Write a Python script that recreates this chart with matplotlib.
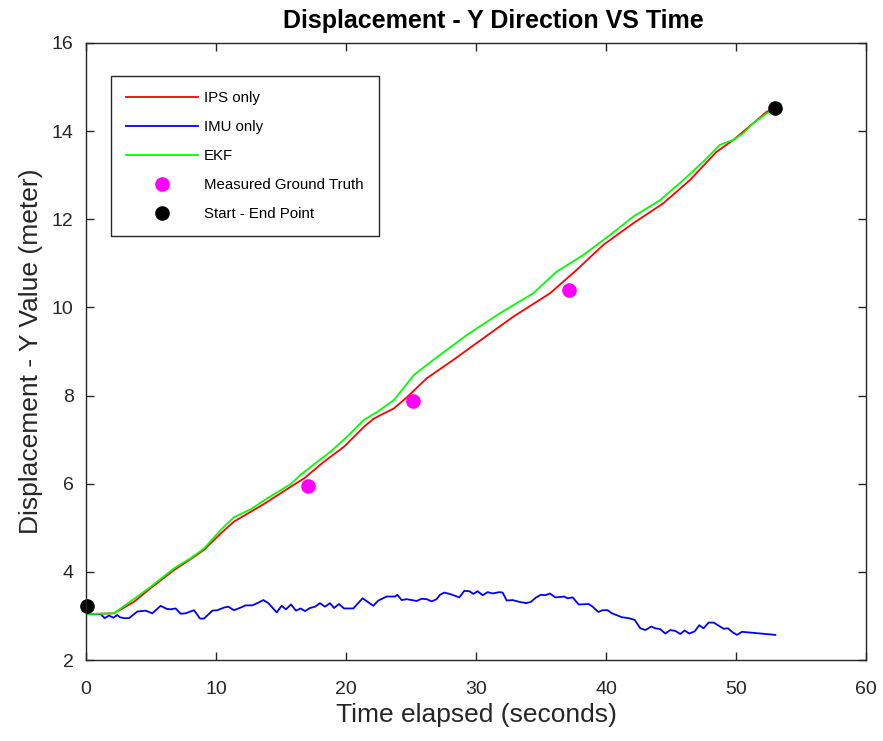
import numpy as np
import matplotlib
matplotlib.use("Agg")
import matplotlib.pyplot as plt

plt.rcParams["font.family"] = ["Liberation Sans", "DejaVu Sans"]

# ----- Data -----

ips_t = [0, 2.15, 3.69, 4.97, 6.77, 8.31, 9.08, 10.36, 11.38, 13.69, 15.74, 16.77,
         18.31, 19.85, 21.38, 22.15, 23.69, 24.72, 26.2, 28.26, 30.56, 32.87, 35.69,
         37.74, 39.8, 42.1, 44.4, 46.46, 48.5, 49.8, 51.33, 52.36, 53.0]
ips_y = [3.04, 3.06, 3.32, 3.63, 4.04, 4.34, 4.50, 4.87, 5.14, 5.54, 5.93, 6.12,
         6.50, 6.84, 7.29, 7.48, 7.71, 7.97, 8.39, 8.81, 9.30, 9.79, 10.32,
         10.85, 11.42, 11.91, 12.36, 12.89, 13.53, 13.80, 14.18, 14.44, 14.50]

imu_t = [0, 1.13, 1.44, 1.77, 2.10, 2.41, 2.62, 2.92, 3.31, 3.95, 4.59, 5.10, 5.74,
         6.21, 6.51, 6.90, 7.28, 7.67, 8.31, 8.77, 9.08, 9.72, 10.10, 10.62, 10.95,
         11.38, 11.90, 12.28, 12.79, 13.18, 13.64, 14.03, 14.67, 15.05, 15.38, 15.77,
         16.15, 16.51, 16.85, 17.23, 17.62, 18.0, 18.38, 18.77, 19.08, 19.46, 19.85,
         20.56, 21.28, 22.10, 22.49, 23.13, 23.77, 23.95, 24.28, 24.67, 25.44, 25.82,
         26.21, 26.59, 26.97, 27.23, 27.56, 28.08, 28.72, 29.10, 29.49, 29.80, 30.13,
         30.51, 30.90, 31.28, 31.79, 32.05, 32.36, 32.82, 33.33, 33.85, 34.23, 34.62,
         35.0, 35.33, 35.69, 36.10, 36.79, 37.05, 37.44, 37.90, 38.67, 38.97, 39.41,
         39.74, 40.13, 40.46, 41.23, 41.74, 42.21, 42.64, 43.03, 43.49, 43.79, 44.18,
         44.56, 44.95, 45.33, 45.72, 46.05, 46.41, 46.82, 47.18, 47.51, 47.90, 48.28,
         48.72, 49.05, 49.38, 49.74, 50.08, 50.46, 53.03]
imu_y = [3.04, 3.04, 2.95, 3.01, 2.96, 3.02, 2.97, 2.95, 2.95, 3.10, 3.12, 3.06, 3.23,
         3.16, 3.15, 3.17, 3.05, 3.06, 3.13, 2.94, 2.94, 3.12, 3.13, 3.19, 3.21,
         3.13, 3.19, 3.24, 3.24, 3.29, 3.36, 3.29, 3.08, 3.23, 3.15, 3.26,
         3.12, 3.17, 3.11, 3.18, 3.21, 3.29, 3.21, 3.29, 3.18, 3.27, 3.17,
         3.17, 3.40, 3.23, 3.35, 3.44, 3.44, 3.48, 3.36, 3.38, 3.34, 3.39,
         3.38, 3.33, 3.38, 3.48, 3.53, 3.49, 3.42, 3.57, 3.56, 3.50, 3.56,
         3.47, 3.54, 3.51, 3.54, 3.53, 3.35, 3.36, 3.32, 3.29, 3.32, 3.42,
         3.48, 3.47, 3.51, 3.42, 3.44, 3.40, 3.42, 3.26, 3.27, 3.21, 3.09,
         3.13, 3.13, 3.06, 2.97, 2.95, 2.91, 2.72, 2.68, 2.76, 2.72, 2.70,
         2.60, 2.68, 2.66, 2.59, 2.67, 2.60, 2.65, 2.79, 2.72, 2.85, 2.85,
         2.77, 2.71, 2.72, 2.63, 2.57, 2.64, 2.57]

ekf_t = [0, 2.15, 3.95, 4.97, 6.77, 8.05, 9.08, 10.36, 11.38, 12.67, 13.95, 15.74,
         16.51, 17.54, 18.82, 20.1, 21.38, 22.41, 23.69, 24.72, 25.23, 26.72, 29.28,
         31.85, 34.4, 36.2, 38.26, 40.3, 42.1, 44.15, 45.95, 47.5, 48.77, 49.8,
         50.56, 51.33, 52.36, 53.0]
ekf_y = [3.04, 3.06, 3.44, 3.66, 4.08, 4.31, 4.53, 4.95, 5.24, 5.42, 5.67, 5.99,
         6.20, 6.44, 6.73, 7.07, 7.45, 7.63, 7.90, 8.28, 8.47, 8.81, 9.37,
         9.87, 10.32, 10.81, 11.19, 11.64, 12.06, 12.43, 12.89, 13.31, 13.69, 13.80,
         13.95, 14.18, 14.40, 14.50]

truth_t = [17.08, 25.15, 37.15]
truth_y = [5.95, 7.88, 10.40]

ends_t = [0.1, 53.0]
ends_y = [3.22, 14.52]

# ----- Plot -----

fig = plt.figure(figsize=(8.83, 7.41), dpi=100)
ax = fig.add_axes([0.0974, 0.1093, 0.8833, 0.8327])

ax.plot(ips_t, ips_y, color="#ff0000", lw=1.3, label="IPS only")
ax.plot(imu_t, imu_y, color="#0000ff", lw=1.3, label="IMU only")
ax.plot(ekf_t, ekf_y, color="#00ff00", lw=1.3, label="EKF")
ax.plot(truth_t, truth_y, "o", color="#ff00ff", ms=9.5, ls="none",
        label="Measured Ground Truth")
ax.plot(ends_t, ends_y, "o", color="black", ms=9.5, ls="none",
        label="Start - End Point", clip_on=False)

ax.set_xlim(0, 60)
ax.set_ylim(2, 16)
ax.set_xticks(np.arange(0, 61, 10))
ax.set_yticks(np.arange(2, 17, 2))

dark = "#262626"
for s in ax.spines.values():
    s.set_color(dark)
    s.set_linewidth(1.0)
ax.tick_params(direction="in", length=6, width=1.0, colors=dark, labelsize=14,
               top=True, right=True)
ax.tick_params(axis="x", pad=15)
ax.tick_params(axis="y", pad=9)

ax.set_xlabel("Time elapsed (seconds)", fontsize=19, color=dark, labelpad=4)
ax.set_ylabel("Displacement - Y Value (meter)", fontsize=19, color=dark, labelpad=6)
ax.set_title("Displacement - Y Direction VS Time", fontsize=18, fontweight="bold",
             color="black", pad=11, x=0.522)

leg = ax.legend(loc="upper left", bbox_to_anchor=(0.032, 0.9465), borderaxespad=0,
                fontsize=10.8, handlelength=4.8, handletextpad=0.4,
                labelspacing=1.0, borderpad=1.0,
                fancybox=False, framealpha=1, edgecolor=dark)
leg.get_frame().set_linewidth(1.0)

fig.savefig("out.png", dpi=100)
